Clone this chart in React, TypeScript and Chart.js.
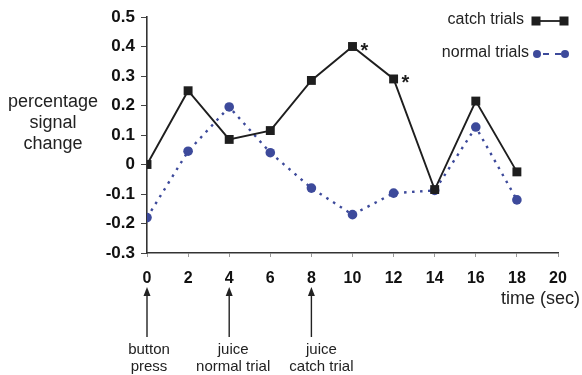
import React, { useEffect, useRef } from "react";
import { Chart, registerables } from "chart.js";

Chart.register(...registerables);

const times = [0, 2, 4, 6, 8, 10, 12, 14, 16, 18];
const catchTrials = [0, 0.25, 0.085, 0.115, 0.285, 0.4, 0.29, -0.085, 0.215, -0.025];
const normalTrials = [-0.18, 0.045, 0.195, 0.04, -0.08, -0.17, -0.097, -0.088, 0.127, -0.12];
const significantIdx = [5, 6];
const seriesNames = ["catch trials", "normal trials"];
const yTitleLines = ["percentage", "signal", "change"];
const xTitle = "time (sec)";
const eventTimes = [0, 4, 8];
const eventLabels = [["button", "press"], ["juice", "normal trial"], ["juice", "catch trial"]];

const FONT = "'Liberation Sans', Arial, Helvetica, sans-serif";
const BLACK = "#1e1e1e";
const BLUE = "#3d4a9b";

const extrasPlugin = {
  id: "extras",
  afterDraw(chart: any) {
    const ctx = chart.ctx;
    const xs = chart.scales.x;
    const ys = chart.scales.y;
    ctx.save();

    // y title (horizontal, multi-line)
    ctx.fillStyle = "#222";
    ctx.font = `18px ${FONT}`;
    ctx.textAlign = "center";
    ctx.textBaseline = "alphabetic";
    yTitleLines.forEach((l, i) => ctx.fillText(l, 53, 107 + i * 21));

    // x title
    ctx.textAlign = "right";
    ctx.fillText(xTitle, 580, 304);

    // asterisks
    ctx.font = `bold 20px ${FONT}`;
    ctx.textAlign = "left";
    ctx.fillStyle = BLACK;
    significantIdx.forEach((i) => {
      const px = xs.getPixelForValue(times[i]);
      const py = ys.getPixelForValue(catchTrials[i]);
      ctx.fillText("*", px + 8, py + 10);
    });

    // event arrows and labels
    ctx.strokeStyle = "#222";
    ctx.fillStyle = "#222";
    ctx.lineWidth = 1.4;
    const textOffsets = [2, 4, 10];
    eventTimes.forEach((t, i) => {
      const px = xs.getPixelForValue(t);
      ctx.beginPath();
      ctx.moveTo(px, 337);
      ctx.lineTo(px, 294);
      ctx.stroke();
      ctx.beginPath();
      ctx.moveTo(px, 287);
      ctx.lineTo(px - 3.5, 296);
      ctx.lineTo(px + 3.5, 296);
      ctx.closePath();
      ctx.fill();
      ctx.font = `15px ${FONT}`;
      ctx.textAlign = "center";
      eventLabels[i].forEach((l, j) => ctx.fillText(l, px + textOffsets[i], 354 + j * 17));
    });

    // legend
    ctx.font = `16px ${FONT}`;
    ctx.textAlign = "right";
    ctx.textBaseline = "middle";
    ctx.fillStyle = "#222";
    ctx.fillText(seriesNames[0], 524, 20);
    ctx.fillText(seriesNames[1], 529, 53);
    // catch legend marker
    ctx.strokeStyle = BLACK;
    ctx.lineWidth = 1.8;
    ctx.setLineDash([]);
    ctx.beginPath();
    ctx.moveTo(536, 21);
    ctx.lineTo(564, 21);
    ctx.stroke();
    ctx.fillStyle = BLACK;
    ctx.fillRect(531.5, 16.5, 9, 9);
    ctx.fillRect(559.5, 16.5, 9, 9);
    // normal legend marker
    ctx.strokeStyle = BLUE;
    ctx.lineWidth = 2.2;
    ctx.setLineDash([6, 6]);
    ctx.beginPath();
    ctx.moveTo(543, 54);
    ctx.lineTo(561, 54);
    ctx.stroke();
    ctx.setLineDash([]);
    ctx.fillStyle = BLUE;
    [537, 565].forEach((x) => {
      ctx.beginPath();
      ctx.arc(x, 54, 4, 0, Math.PI * 2);
      ctx.fill();
    });

    ctx.restore();
  },
};

export default function App() {
  const ref = useRef<HTMLCanvasElement>(null);
  useEffect(() => {
    if (!ref.current) return;
    const chart = new Chart(ref.current, {
      type: "line",
      data: {
        datasets: [
          {
            label: seriesNames[0],
            data: times.map((t, i) => ({ x: t, y: catchTrials[i] })),
            borderColor: BLACK,
            backgroundColor: BLACK,
            borderWidth: 1.9,
            pointStyle: "rect",
            pointRadius: 6.3,
            pointBorderWidth: 0,
            tension: 0,
          },
          {
            label: seriesNames[1],
            data: times.map((t, i) => ({ x: t, y: normalTrials[i] })),
            borderColor: BLUE,
            backgroundColor: BLUE,
            borderWidth: 2.4,
            borderDash: [2.5, 5.5],
            pointStyle: "circle",
            pointRadius: 4.8,
            pointBorderWidth: 0,
            tension: 0,
          },
        ],
      },
      options: {
        responsive: false,
        animation: false,
        devicePixelRatio: 1,
        layout: { padding: { left: 0, top: 17, right: 24, bottom: 82 } },
        plugins: { legend: { display: false }, tooltip: { enabled: false }, title: { display: false } },
        scales: {
          x: {
            type: "linear",
            min: 0,
            max: 20,
            afterFit: (s: any) => {
              s.height = 40;
            },
            ticks: {
              stepSize: 2,
              color: "#111",
              font: { family: FONT, size: 16, weight: "bold" },
              padding: 12,
              maxRotation: 0,
            },
            grid: { drawOnChartArea: false, drawTicks: true, tickLength: 4, color: "#999" },
            border: { display: true, color: "#333", width: 1.6 },
          },
          y: {
            type: "linear",
            min: -0.3,
            max: 0.5,
            afterFit: (s: any) => {
              s.width = 147;
            },
            ticks: {
              stepSize: 0.1,
              color: "#111",
              font: { family: FONT, size: 17, weight: "bold" },
              padding: 6,
              callback: (v: any) => String(Number(Number(v).toFixed(1))),
            },
            grid: { drawOnChartArea: false, drawTicks: true, tickLength: 6, color: "#444" },
            border: { display: true, color: "#333", width: 1.6 },
          },
        },
      },
      plugins: [extrasPlugin],
    });
    return () => chart.destroy();
  }, []);
  return (
    <div style={{ position: "absolute", left: 0, top: 0, width: 582, height: 375, background: "#fff" }}>
      <canvas ref={ref} width={582} height={375} style={{ width: 582, height: 375, display: "block" }} />
    </div>
  );
}
